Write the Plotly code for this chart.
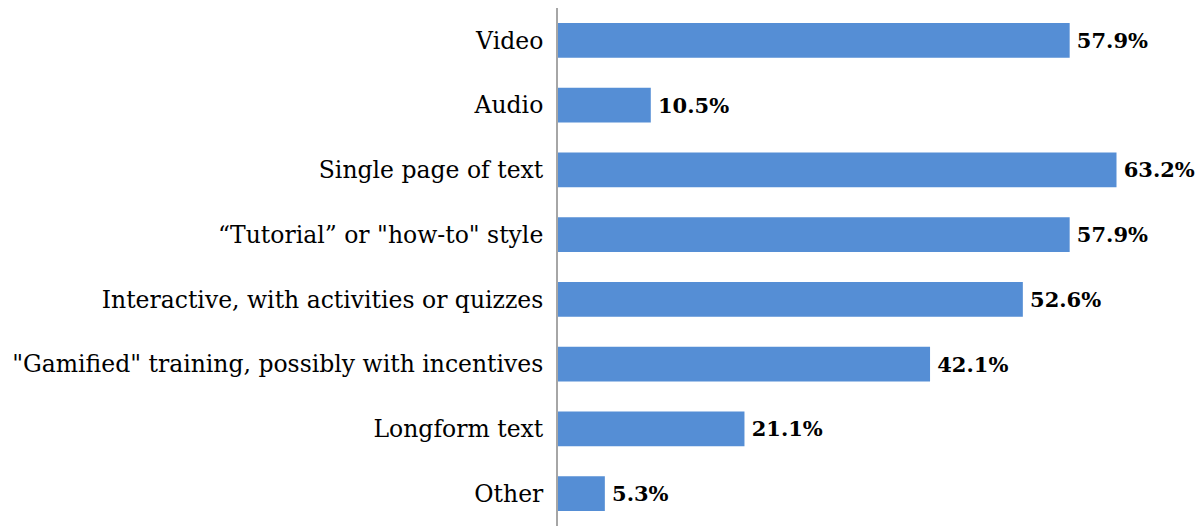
import plotly.graph_objects as go

categories = ["Video", "Audio", "Single page of text", "\u201cTutorial\u201d or \"how-to\" style",
              "Interactive, with activities or quizzes",
              "\"Gamified\" training, possibly with incentives", "Longform text", "Other"]
values = [57.9, 10.5, 63.2, 57.9, 52.6, 42.1, 21.1, 5.3]
labels = [f"\u2009{v:.1f}%" for v in values]

fig = go.Figure(go.Bar(
    x=values, y=categories, orientation="h",
    marker=dict(color="#558ED5", line=dict(width=0)),
    text=labels, textposition="outside", cliponaxis=False,
    textfont=dict(family="DejaVu Serif", size=21, color="#000000", weight="bold"),
))

fig.update_layout(
    width=1196, height=518,
    margin=dict(l=550, r=0, t=0, b=0),
    paper_bgcolor="white", plot_bgcolor="white",
    bargap=0.46, showlegend=False,
    font=dict(family="DejaVu Serif", size=23.5, color="#000000"),
    xaxis=dict(range=[0, 73.1], visible=False),
    yaxis=dict(autorange="reversed", showline=True, linecolor="#A6A6A6", linewidth=2,
               ticks="", showgrid=False, ticklabelstandoff=8,
               tickfont=dict(family="DejaVu Serif", size=23.5, color="#000000")),
)
fig.write_html("out.html")
